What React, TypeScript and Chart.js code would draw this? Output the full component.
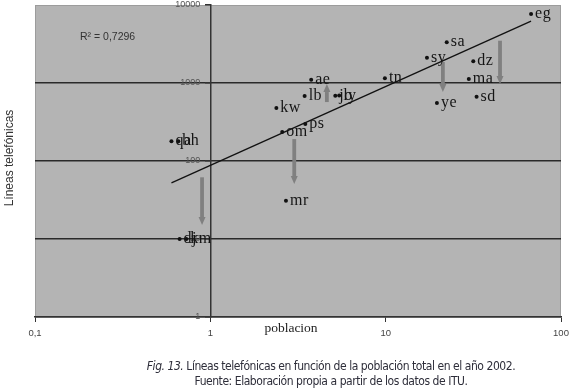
import React, { useEffect, useRef } from 'react';
import { Chart, registerables } from 'chart.js';

Chart.register(...registerables);

// Country codes, population (millions) and telephone lines (thousands), 2002
const COUNTRIES = ['eg', 'sa', 'sy', 'dz', 'ma', 'sd', 'ye', 'tn', 'ae', 'lb', 'jo', 'ly', 'kw', 'om', 'ps', 'qa', 'bh', 'mr', 'dj', 'km'];
const POPULATION = [67.5, 22.3, 17.2, 31.6, 29.8, 33.0, 19.6, 9.9, 3.76, 3.45, 5.16, 5.43, 2.38, 2.57, 3.48, 0.60, 0.657, 2.7, 0.668, 0.73];
const LINES = [7670, 3330, 2110, 1900, 1125, 667, 554, 1150, 1100, 681, 687, 690, 478, 235, 298, 179, 179, 31, 10, 10];

// Grey arrows (x position, from value, to value)
const ARROW_X = [4.62, 21.2, 44.9, 3.01, 0.897];
const ARROW_FROM = [570, 1858, 3484, 191, 61.8];
const ARROW_TO = [970, 767, 970, 50.7, 15.1];

// Power trend line y = a * x^b
const TREND_A = 88;
const TREND_B = 1.01;
const R2_LABEL = 'R² = 0,7296';

const X_TICKS = [0.1, 1, 10, 100];
const X_TICK_LABELS = ['0,1', '1', '10', '100'];
const Y_TICKS = [1, 10, 100, 1000, 10000];
const Y_TICK_LABELS = ['1', '10', '100', '1000', '10000'];

const X_TITLE = 'poblacion';
const Y_TITLE = 'Líneas telefónicas';
const CAPTION_FIG = 'Fig. 13.';
const CAPTION_1 = ' Líneas telefónicas en función de la población total en el año 2002.';
const CAPTION_2 = 'Fuente: Elaboración propia a partir de los datos de ITU.';

const decorPlugin = {
  id: 'decor',
  beforeDraw(chart: any) {
    const { ctx, chartArea: a } = chart;
    ctx.save();
    ctx.fillStyle = '#b4b4b4';
    ctx.fillRect(a.left, a.top, a.right - a.left, a.bottom - a.top);
    ctx.strokeStyle = '#9c9c9c';
    ctx.lineWidth = 1;
    ctx.strokeRect(a.left + 0.5, a.top + 0.5, a.right - a.left - 1, a.bottom - a.top - 1);
    ctx.restore();
  },
  beforeDatasetsDraw(chart: any) {
    const { ctx, scales } = chart;
    ctx.save();
    ctx.fillStyle = '#808080';
    ctx.strokeStyle = '#808080';
    for (let i = 0; i < ARROW_X.length; i++) {
      const x = scales.x.getPixelForValue(ARROW_X[i]);
      const y0 = scales.y.getPixelForValue(ARROW_FROM[i]);
      const y1 = scales.y.getPixelForValue(ARROW_TO[i]);
      const dir = y1 > y0 ? 1 : -1;
      const head = 8;
      ctx.lineWidth = 3.8;
      ctx.beginPath();
      ctx.moveTo(x, y0);
      ctx.lineTo(x, y1 - dir * head);
      ctx.stroke();
      ctx.beginPath();
      ctx.moveTo(x - 3.5, y1 - dir * head);
      ctx.lineTo(x + 3.5, y1 - dir * head);
      ctx.lineTo(x, y1);
      ctx.closePath();
      ctx.fill();
    }
    ctx.restore();
  },
  afterDatasetsDraw(chart: any) {
    const { ctx, chartArea: a, scales } = chart;
    const meta = chart.getDatasetMeta(0);
    ctx.save();
    // y tick labels, placed left of the y axis (which crosses at x = 1)
    const axisX = scales.x.getPixelForValue(1);
    ctx.font = '9px "Liberation Sans", Arial, sans-serif';
    ctx.fillStyle = '#555';
    ctx.textAlign = 'right';
    ctx.textBaseline = 'middle';
    Y_TICKS.forEach((v, i) => {
      ctx.fillText(Y_TICK_LABELS[i], axisX - 10, scales.y.getPixelForValue(v));
    });
    // point labels
    ctx.font = '16px "Liberation Serif", serif';
    try {
      (ctx as any).letterSpacing = '0.5px';
    } catch (e) {}
    ctx.fillStyle = '#151515';
    ctx.textAlign = 'left';
    meta.data.forEach((pt: any, i: number) => {
      ctx.fillText(COUNTRIES[i], pt.x + 4, pt.y);
    });
    try {
      (ctx as any).letterSpacing = '0px';
    } catch (e) {}
    ctx.font = '10.5px "Liberation Sans", Arial, sans-serif';
    ctx.fillStyle = '#333';
    ctx.fillText(R2_LABEL, a.left + 45, a.top + 32);
    ctx.restore();
  },
  afterDraw(chart: any) {
    const { ctx, chartArea: a } = chart;
    ctx.save();
    ctx.fillStyle = '#222';
    ctx.textAlign = 'center';
    ctx.textBaseline = 'middle';
    ctx.font = '13.5px "Liberation Serif", serif';
    ctx.fillText(X_TITLE, 291, a.bottom + 11);
    ctx.translate(10, 158);
    ctx.rotate(-Math.PI / 2);
    ctx.font = '12px "Liberation Sans", Arial, sans-serif';
    ctx.fillStyle = '#333';
    ctx.fillText(Y_TITLE, 0, 0);
    ctx.restore();
  },
};

export default function App() {
  const ref = useRef<HTMLCanvasElement>(null);

  useEffect(() => {
    if (!ref.current) return;
    const xMin = Math.min(...POPULATION);
    const xMax = Math.max(...POPULATION);
    const chart = new Chart(ref.current, {
      type: 'scatter',
      data: {
        datasets: [
          {
            data: POPULATION.map((p, i) => ({ x: p, y: LINES[i] })),
            pointRadius: 2,
            pointBackgroundColor: '#111',
            pointBorderWidth: 0,
            showLine: false,
          },
          {
            type: 'line',
            data: [
              { x: xMin, y: TREND_A * Math.pow(xMin, TREND_B) },
              { x: xMax, y: TREND_A * Math.pow(xMax, TREND_B) },
            ],
            borderColor: '#111',
            borderWidth: 1.3,
            pointRadius: 0,
            fill: false,
          },
        ],
      } as any,
      options: {
        animation: false,
        responsive: false,
        layout: { padding: { left: 35, right: 9, top: 5, bottom: 0 } },
        plugins: { legend: { display: false }, tooltip: { enabled: false } },
        scales: {
          x: {
            type: 'logarithmic',
            position: 'bottom',
            min: 0.1,
            max: 100,
            afterBuildTicks: (s: any) => {
              s.ticks = X_TICKS.map((v) => ({ value: v }));
            },
            afterFit: (s: any) => {
              s.height = 74;
              s.paddingLeft = 0;
              s.paddingRight = 0;
            },
            grid: { drawOnChartArea: false, drawTicks: true, tickLength: 5, color: '#333', lineWidth: 1 },
            border: { display: true, color: '#333', width: 1.5 },
            ticks: {
              padding: 6,
              color: '#444',
              font: { size: 9.5, family: '"Liberation Sans", Arial, sans-serif' },
              callback: (_v: any, i: number) => X_TICK_LABELS[i],
              maxRotation: 0,
              autoSkip: false,
            },
          },
          y: {
            type: 'logarithmic',
            position: { x: 1 } as any,
            min: 1,
            max: 10000,
            afterBuildTicks: (s: any) => {
              s.ticks = Y_TICKS.map((v) => ({ value: v }));
            },
            afterFit: (s: any) => {
              s.paddingTop = 0;
              s.paddingBottom = 0;
            },
            grid: {
              drawOnChartArea: true,
              drawTicks: true,
              tickLength: 5,
              color: (c: any) => (c.tick && c.tick.value === 10000 ? 'rgba(0,0,0,0)' : '#2a2a2a'),
              tickColor: '#333',
              lineWidth: 1.5,
            },
            border: { display: true, color: '#333', width: 1.5 },
            ticks: { display: false },
          },
        },
      } as any,
      plugins: [decorPlugin],
    });
    return () => chart.destroy();
  }, []);

  return (
    <div style={{ position: 'fixed', left: 0, top: 0, width: 570, height: 391, background: '#fff' }}>
      <canvas ref={ref} width={570} height={391} style={{ position: 'absolute', left: 0, top: 0 }} />
      <div
        style={{
          position: 'absolute',
          left: 0,
          top: 359,
          width: 570,
          boxSizing: 'border-box',
          paddingLeft: 92,
          textAlign: 'center',
          fontFamily: '"Liberation Sans Narrow", "DejaVu Sans Condensed", Arial, sans-serif',
          fontSize: 12,
          letterSpacing: '-0.45px',
          lineHeight: '15px',
          color: '#2e2e3a',
        }}
      >
        <div>
          <i>{CAPTION_FIG}</i>
          {CAPTION_1}
        </div>
        <div>{CAPTION_2}</div>
      </div>
    </div>
  );
}
